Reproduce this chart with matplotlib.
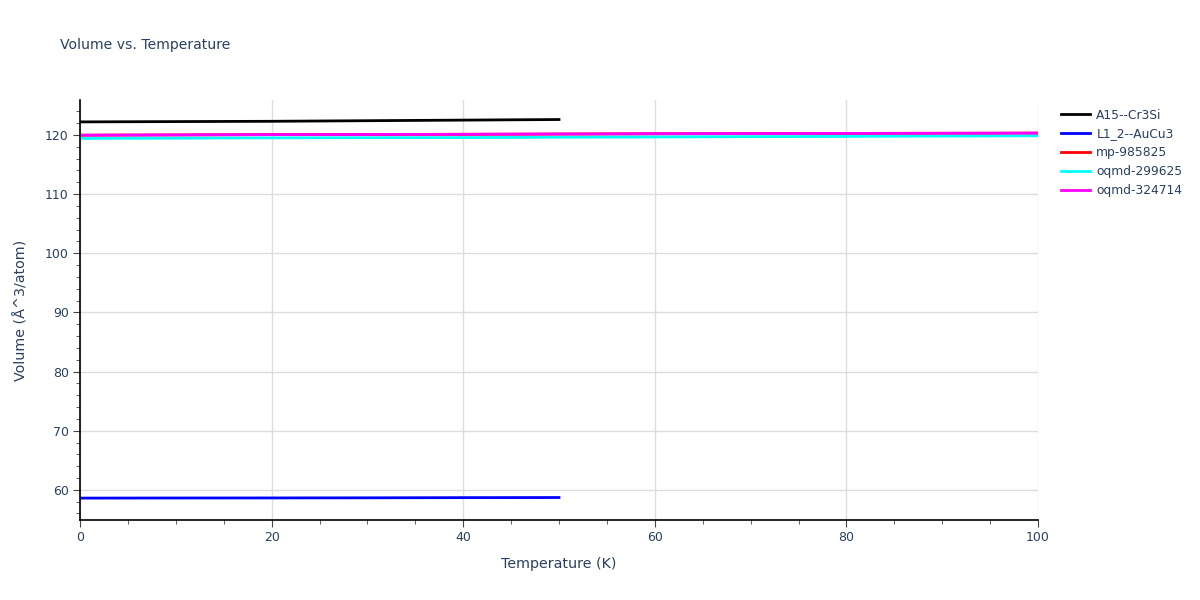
import matplotlib.pyplot as plt
from matplotlib.ticker import MultipleLocator

names = ['A15--Cr3Si', 'L1_2--AuCu3', 'mp-985825', 'oqmd-299625', 'oqmd-324714']
colors = ['black', 'blue', 'red', 'cyan', 'magenta']
temps = [
    [0, 10, 20, 30, 40, 50],
    [0, 10, 20, 30, 40, 50],
    [0, 20, 40, 60, 80, 100],
    [0, 20, 40, 60, 80, 100],
    [0, 20, 40, 60, 80, 100],
]
volumes = [
    [122.2, 122.25, 122.3, 122.4, 122.5, 122.6],
    [58.6, 58.62, 58.63, 58.65, 58.68, 58.7],
    [119.95, 120.05, 120.1, 120.2, 120.25, 120.3],
    [119.4, 119.5, 119.55, 119.65, 119.75, 119.85],
    [119.95, 120.05, 120.1, 120.2, 120.25, 120.3],
]

text_col = '#2a3f5f'

fig = plt.figure(figsize=(12, 6), dpi=100)
ax = fig.add_axes([80 / 1200, 80 / 600, 958 / 1200, 420 / 600])

for t, v, c, n in zip(temps, volumes, colors, names):
    ax.plot(t, v, color=c, lw=2, label=n)

ax.set_xlim(0, 100)
ax.set_ylim(54.9, 125.9)
ax.xaxis.set_major_locator(MultipleLocator(20))
ax.xaxis.set_minor_locator(MultipleLocator(5))
ax.yaxis.set_major_locator(MultipleLocator(10))
ax.yaxis.set_minor_locator(MultipleLocator(2))
ax.grid(True, which='major', color='#dddddd', lw=1)
ax.set_axisbelow(True)

for s in ['top', 'right']:
    ax.spines[s].set_visible(False)
for s in ['left', 'bottom']:
    ax.spines[s].set_color('black')
    ax.spines[s].set_linewidth(1.2)

ax.tick_params(which='major', length=5, color='#444444', labelsize=9, labelcolor=text_col, pad=3)
ax.tick_params(which='minor', length=3, color='#444444')

ax.set_xlabel('Temperature (K)', fontsize=10.3, color=text_col, labelpad=9)
ax.set_ylabel('Volume (Å^3/atom)', fontsize=10.3, color=text_col, labelpad=12)

fig.text(60 / 1200, 1 - 45 / 600, 'Volume vs. Temperature', fontsize=10.1, color=text_col, va='center')

leg = ax.legend(loc='upper left', bbox_to_anchor=(1.015, 1.0), frameon=False,
                fontsize=8.8, handlelength=2.4, handletextpad=0.5, labelspacing=0.48,
                borderaxespad=0.3)
for txt in leg.get_texts():
    txt.set_color(text_col)

fig.savefig('out.png', dpi=100)
